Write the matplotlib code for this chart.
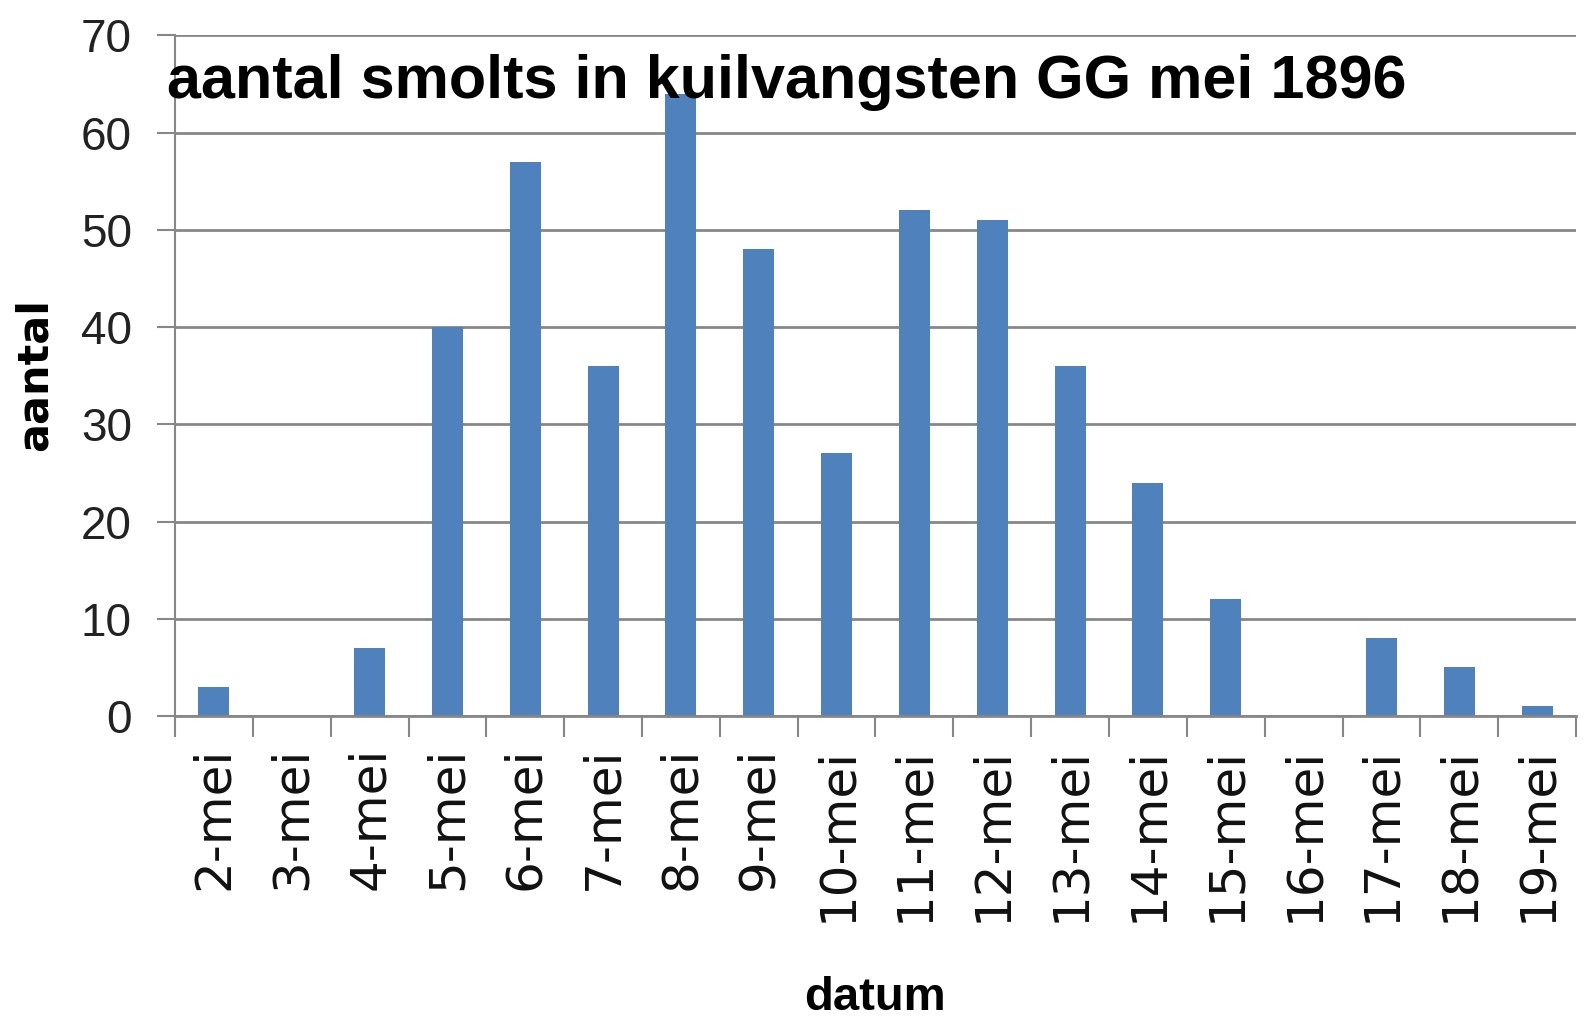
import matplotlib
matplotlib.use("Agg")
import matplotlib.pyplot as plt
import numpy as np

categories = ["2-mei", "3-mei", "4-mei", "5-mei", "6-mei", "7-mei", "8-mei", "9-mei",
              "10-mei", "11-mei", "12-mei", "13-mei", "14-mei", "15-mei", "16-mei",
              "17-mei", "18-mei", "19-mei"]
values = [3, 0, 7, 40, 57, 36, 64, 48, 27, 52, 51, 36, 24, 12, 0, 8, 5, 1]
yticks = [0, 10, 20, 30, 40, 50, 60, 70]
title = "aantal smolts in kuilvangsten GG mei 1896"

W, H = 1586, 1022
fig = plt.figure(figsize=(W / 100, H / 100), dpi=100)
ax = fig.add_axes([175 / W, 1 - 716 / H, (1576 - 175) / W, (716 - 35.4) / H])

grid_c = "#878787"
x = np.arange(len(categories))
ax.bar(x, values, width=0.4, color="#4F81BD", zorder=3)

ax.set_xlim(-0.5, len(categories) - 0.5)
ax.set_ylim(0, 70)
ax.set_yticks(yticks)
ax.set_yticklabels([str(v) for v in yticks], family=["Liberation Sans", "DejaVu Sans"],
                   fontsize=33, color="#222222")
ax.yaxis.grid(True, color=grid_c, linewidth=2, zorder=0)
ax.tick_params(axis="y", length=13, width=1.5, color=grid_c, pad=18)

ax.set_xticks(x)
ax.set_xticklabels(categories, rotation=90, family=["DejaVu Sans"], fontsize=36,
                   color="#111111")
ax.set_xticks(np.arange(-0.5, len(categories)), minor=True)
ax.tick_params(axis="x", which="major", length=0, pad=22)
ax.tick_params(axis="x", which="minor", length=15, width=1.5, color=grid_c)

for s in ["top", "right"]:
    ax.spines[s].set_visible(False)
ax.spines["left"].set_color(grid_c)
ax.spines["left"].set_linewidth(1.5)
ax.spines["bottom"].set_color(grid_c)
ax.spines["bottom"].set_linewidth(2)
ax.spines["bottom"].set_zorder(4)

fig.text(167 / W, 1 - 98 / H, title, family=["Liberation Sans", "DejaVu Sans"],
         fontweight="bold", fontsize=44, va="baseline", ha="left", color="black", zorder=5)
fig.text(35 / W, 1 - 374 / H, "aantal", rotation=90, family=["DejaVu Sans"],
         fontweight="bold", fontsize=31, va="center", ha="center")
fig.text(875 / W, 1 - 998 / H, "datum", family=["Liberation Sans", "DejaVu Sans"],
         fontweight="bold", fontsize=34, va="center", ha="center")

fig.savefig("out.png", dpi=100)
